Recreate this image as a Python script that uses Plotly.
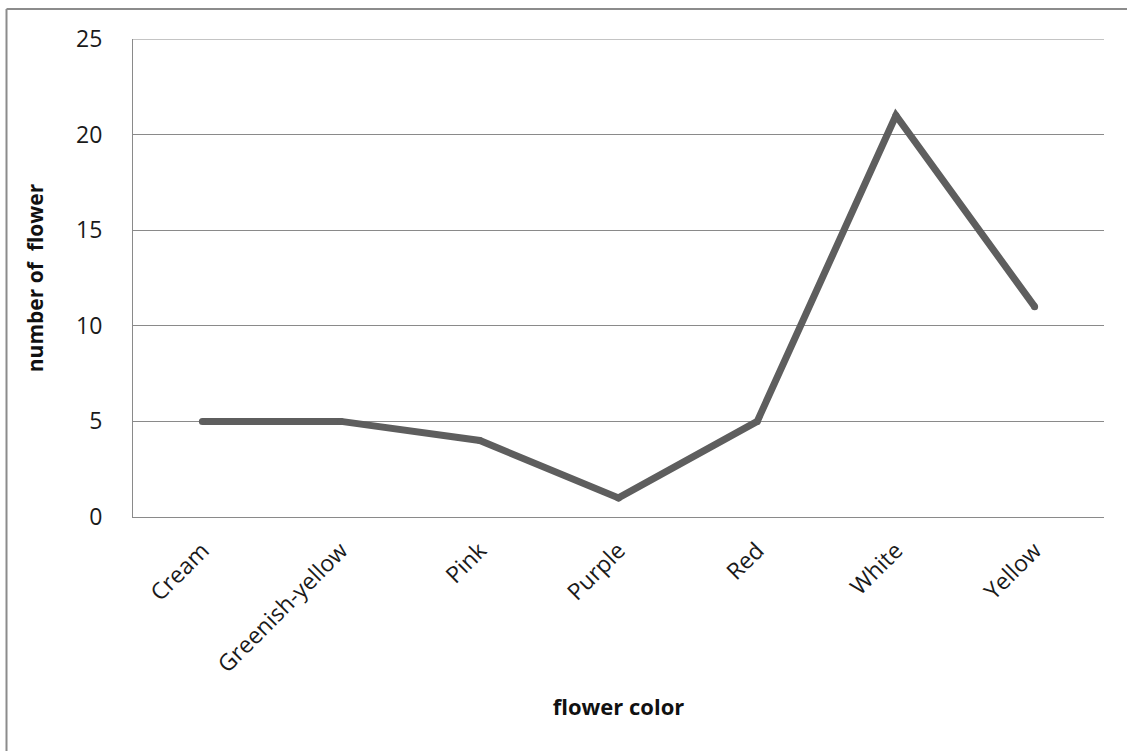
import plotly.graph_objects as go

# Flower counts by colour
colors = ["Cream", "Greenish-yellow", "Pink", "Purple", "Red", "White", "Yellow"]
counts = [5, 5, 4, 1, 5, 21, 11]
y_ticks = [0, 5, 10, 15, 20, 25]

W, H = 1127, 751
ML, MR, MT, MB = 133, 23, 39, 234

LINE_COLOR = "#5e5e5e"
GRID_COLOR = "#8a8a8a"
FONT = "Open Sans"

fig = go.Figure()
fig.add_trace(go.Scatter(
    x=colors,
    y=counts,
    mode="lines+markers",
    line=dict(color=LINE_COLOR, width=7),
    marker=dict(color=LINE_COLOR, size=7, line=dict(width=0)),
    hoverinfo="x+y",
    showlegend=False,
))

# Outer chart frame (top and left edges)
pw = W - ML - MR
ph = H - MT - MB
def px_x(v):
    return (v - ML) / pw
def px_y(v):
    return (H - MB - v) / ph

frame = dict(color="#8c8c8c", width=2)
fig.add_shape(type="line", xref="paper", yref="paper",
              x0=px_x(6.5), x1=px_x(W + 10), y0=px_y(9), y1=px_y(9), line=frame)
fig.add_shape(type="line", xref="paper", yref="paper",
              x0=px_x(6.5), x1=px_x(6.5), y0=px_y(9), y1=px_y(H + 10), line=frame)

# Gridline at the top of the value range (Plotly skips it at the plot edge)
fig.add_shape(type="line", xref="paper", yref="y", layer="below",
              x0=0, x1=1, y0=y_ticks[-1], y1=y_ticks[-1],
              line=dict(color=GRID_COLOR, width=1))

fig.update_layout(
    width=W,
    height=H,
    margin=dict(l=ML, r=MR, t=MT, b=MB, pad=0),
    paper_bgcolor="white",
    plot_bgcolor="white",
    font=dict(family=FONT, color="#1a1a1a", size=23),
    xaxis=dict(
        type="category",
        range=[-0.5, len(colors) - 0.5],
        showgrid=False,
        showline=True,
        linecolor=GRID_COLOR,
        linewidth=1,
        ticks="",
        tickangle=-45,
        ticklabelstandoff=10,
        tickfont=dict(family=FONT, size=23, color="#1a1a1a"),
        title=dict(text="flower color", font=dict(family=FONT, size=22, color="#111111", weight="bold"),
                   standoff=21),
        automargin=False,
    ),
    yaxis=dict(
        range=[0, 25],
        tickvals=y_ticks,
        showgrid=True,
        gridcolor=GRID_COLOR,
        gridwidth=1,
        showline=True,
        linecolor=GRID_COLOR,
        linewidth=1,
        zeroline=False,
        ticks="",
        ticklabelstandoff=25,
        tickfont=dict(family=FONT, size=23, color="#1a1a1a"),
        title=dict(text="number of\u00a0 flower", font=dict(family=FONT, size=21, color="#111111", weight="bold"),
                   standoff=26),
        automargin=False,
    ),
)

fig.write_html("out.html")
